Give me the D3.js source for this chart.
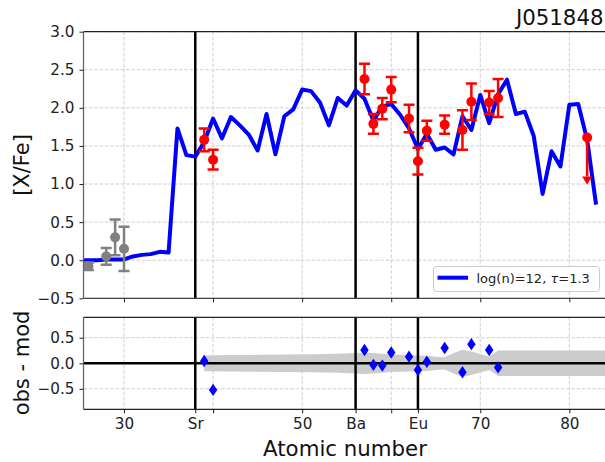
<!DOCTYPE html>
<html><head><meta charset="utf-8">
<script src="https://cdn.jsdelivr.net/npm/d3@7/dist/d3.min.js"></script>
<style>body{margin:0;background:#fff} text{font-family:"DejaVu Sans",sans-serif}</style>
</head><body><svg id="c" width="605" height="462"></svg>
<script>
// ---- data ----
const modelZ = [25,26,27,28,29,30,31,32,33,34,35,36,37,38,39,40,41,42,43,44,45,46,47,48,49,50,51,52,53,54,55,56,57,58,59,60,61,62,63,64,65,66,67,68,69,70,71,72,73,74,75,76,77,78,79,80,81,82,83];
const modelV = [0.00,0.00,0.00,0.01,0.01,0.01,0.05,0.07,0.08,0.11,0.10,1.73,1.38,1.36,1.55,1.86,1.60,1.88,1.77,1.65,1.44,1.92,1.39,1.89,1.98,2.24,2.22,2.07,1.77,2.13,2.03,2.23,2.12,1.83,2.02,2.05,1.91,1.73,1.46,1.66,1.45,1.48,1.39,1.89,1.71,2.17,1.80,2.18,2.37,1.92,1.95,1.63,0.87,1.43,1.23,2.04,2.05,1.58,0.73];

const obsZ   = [39,40,57,58,59,60,62,63,64,66,68,69,71,72];
const obsV   = [1.58,1.32,2.38,1.79,1.99,2.24,1.86,1.30,1.70,1.78,1.71,2.08,2.07,2.13];
const obsErr = [0.15,0.13,0.20,0.13,0.14,0.165,0.18,0.175,0.13,0.12,0.26,0.24,0.15,0.25];

const limZ = [82];
const limV = [1.61];

const greyZ   = [26,28,29,30];
const greyV   = [-0.08,0.05,0.30,0.15];
const greyErr = [0.05,0.11,0.235,0.29];

const resZ = [39,40,57,58,59,60,62,63,64,66,68,69,71,72];
const resV = [0.045,-0.52,0.26,-0.03,-0.045,0.21,0.13,-0.13,0.03,0.30,-0.175,0.375,0.26,-0.08];

const bandZ = [39,42,45,48,51,54,56,57,58,60,62,63,64,65,66,67,68,69,70,71,72,86];
const bandW = [0.155,0.16,0.165,0.17,0.175,0.185,0.2,0.21,0.2,0.17,0.16,0.155,0.15,0.13,0.12,0.2,0.265,0.23,0.18,0.13,0.25,0.25];

const markZ = [38,56,63];               // Sr, Ba, Eu
const gridX = [30,40,50,60,70,80];
const topYTicks = [-0.5,0,0.5,1,1.5,2,2.5,3];
const botYTicks = [-0.5,0,0.5];
const botXTicks = [30,38,40,50,56,60,63,70,80];
const botXLabels = ["30","Sr","","50","Ba","","Eu","70","80"];

const titleText = "J051848";
const legendText = "log(n)=12, ";

// ---- layout ----
const svg = d3.select("#c");
const L = 83.5, R = 606.3;
const x = d3.scaleLinear().domain([25.45, 84.15]).range([L, R]);
const yT = d3.scaleLinear().domain([-0.5, 3]).range([298.3, 31.7]);
const yB = d3.scaleLinear().domain([-0.9, 0.9]).range([409.3, 317.3]);
const fmt = d => d3.format(".1f")(d).replace("-", "\u2212");
const gridStyle = s => s.attr("stroke","#d0d0d0").attr("stroke-width",1).attr("stroke-dasharray","3.7,1.6");
const TICKFS = 15.2;

const defs = svg.append("defs");
defs.append("clipPath").attr("id","clipT").append("rect").attr("x",L).attr("y",31.7).attr("width",R-L).attr("height",298.3-31.7);
defs.append("clipPath").attr("id","clipB").append("rect").attr("x",L).attr("y",317.3).attr("width",R-L).attr("height",409.3-317.3);

// ===== TOP PANEL =====
const gT = svg.append("g");
const gTc = gT.append("g").attr("clip-path","url(#clipT)");
gTc.selectAll(".vg").data(gridX).enter().append("line")
  .attr("x1",d=>x(d)).attr("x2",d=>x(d)).attr("y1",yT(3)).attr("y2",yT(-0.5)).call(gridStyle);
gTc.selectAll(".hg").data(topYTicks).enter().append("line")
  .attr("x1",L).attr("x2",R).attr("y1",d=>yT(d)).attr("y2",d=>yT(d)).call(gridStyle);
gTc.selectAll(".vm").data(markZ).enter().append("line")
  .attr("x1",d=>x(d)).attr("x2",d=>x(d)).attr("y1",yT(3)).attr("y2",yT(-0.5))
  .attr("stroke","#000").attr("stroke-width",2.5);

const model = modelZ.map((z,i)=>[z,modelV[i]]);
gTc.append("path").datum(model)
  .attr("d", d3.line().x(d=>x(d[0])).y(d=>yT(d[1])))
  .attr("fill","none").attr("stroke","#0000ff").attr("stroke-width",4).attr("stroke-linejoin","round");

function errBars(g, Z, V, E, col){
  Z.forEach((z,i)=>{
    const cx = x(z);
    g.append("line").attr("x1",cx).attr("x2",cx).attr("y1",yT(V[i]-E[i])).attr("y2",yT(V[i]+E[i]))
      .attr("stroke",col).attr("stroke-width",2.5);
    [V[i]-E[i], V[i]+E[i]].forEach(v=>{
      g.append("line").attr("x1",cx-5.5).attr("x2",cx+5.5).attr("y1",yT(v)).attr("y2",yT(v))
        .attr("stroke",col).attr("stroke-width",2.5);
    });
    g.append("circle").attr("cx",cx).attr("cy",yT(V[i])).attr("r",5).attr("fill",col);
  });
}
errBars(gTc, greyZ, greyV, greyErr, "#808080");
errBars(gTc, obsZ, obsV, obsErr, "#ff0000");

limZ.forEach((z,i)=>{
  const cx = x(z);
  gTc.append("line").attr("x1",cx).attr("x2",cx).attr("y1",yT(limV[i])).attr("y2",yT(1.1))
    .attr("stroke","#ff0000").attr("stroke-width",2.5);
  gTc.append("path").attr("d",`M${cx-5},${yT(1.1)}L${cx+5},${yT(1.1)}L${cx},${yT(0.99)}Z`).attr("fill","#ff0000");
  gTc.append("circle").attr("cx",cx).attr("cy",yT(limV[i])).attr("r",5).attr("fill","#ff0000");
});

// spines top
gT.append("line").attr("x1",L).attr("x2",R).attr("y1",31.7).attr("y2",31.7).attr("stroke","#222").attr("stroke-width",1.2);
gT.append("line").attr("x1",L).attr("x2",R).attr("y1",298.3).attr("y2",298.3).attr("stroke","#444").attr("stroke-width",1.2);
gT.append("line").attr("x1",L).attr("x2",L).attr("y1",31.7).attr("y2",298.3).attr("stroke","#666").attr("stroke-width",1.3);

// axes top
const axTY = gT.append("g").attr("transform",`translate(${L},0)`)
  .call(d3.axisLeft(yT).tickValues(topYTicks).tickFormat(fmt).tickSize(4).tickPadding(5));
const axTX = gT.append("g").attr("transform",`translate(0,298.3)`)
  .call(d3.axisBottom(x).tickValues(gridX).tickFormat("").tickSize(4));
[axTY,axTX].forEach(a=>{a.select(".domain").remove(); a.selectAll("line").attr("stroke","#222");
  a.selectAll("text").attr("font-size",TICKFS).attr("fill","#222").style("font-family","DejaVu Sans");});

// legend
const lg = gT.append("g");
lg.append("rect").attr("x",433.5).attr("y",266.5).attr("width",166).attr("height",25).attr("rx",3)
  .attr("fill","#fff").attr("fill-opacity",0.8).attr("stroke","#cccccc");
lg.append("line").attr("x1",437.5).attr("x2",468).attr("y1",277.7).attr("y2",277.7).attr("stroke","#0000ff").attr("stroke-width",4);
const lt = lg.append("text").attr("x",476.5).attr("y",282.5).attr("font-size",13).attr("fill","#222");
lt.append("tspan").text(legendText);
lt.append("tspan").attr("font-style","italic").text("\u03c4");
lt.append("tspan").text("=1.3");

// title & ylabel
svg.append("text").attr("x",603.5).attr("y",25).attr("text-anchor","end").attr("font-size",21.3).attr("fill","#111").text(titleText);
svg.append("text").attr("transform",`translate(28.5,165) rotate(-90)`).attr("text-anchor","middle")
  .attr("font-size",21).attr("fill","#111").text("[X/Fe]");

// ===== BOTTOM PANEL =====
const gB = svg.append("g");
const gBc = gB.append("g").attr("clip-path","url(#clipB)");
gBc.selectAll(".vg").data(gridX).enter().append("line")
  .attr("x1",d=>x(d)).attr("x2",d=>x(d)).attr("y1",yB(0.9)).attr("y2",yB(-0.9)).call(gridStyle);
gBc.selectAll(".hg").data(botYTicks).enter().append("line")
  .attr("x1",L).attr("x2",R).attr("y1",d=>yB(d)).attr("y2",d=>yB(d)).call(gridStyle);

const band = bandZ.map((z,i)=>[z,bandW[i]]);
gBc.append("path").datum(band)
  .attr("d", d3.area().x(d=>x(d[0])).y0(d=>yB(-d[1])).y1(d=>yB(d[1])))
  .attr("fill","#cccccc");

gBc.append("line").attr("x1",L).attr("x2",R).attr("y1",yB(0)).attr("y2",yB(0)).attr("stroke","#000").attr("stroke-width",2.5);
gBc.selectAll(".vm").data(markZ).enter().append("line")
  .attr("x1",d=>x(d)).attr("x2",d=>x(d)).attr("y1",yB(0.9)).attr("y2",yB(-0.9))
  .attr("stroke","#000").attr("stroke-width",2.5);

gBc.selectAll(".dm").data(resZ).enter().append("path")
  .attr("d",(z,i)=>`M${x(z)},${yB(resV[i])-6.2}L${x(z)+4.2},${yB(resV[i])}L${x(z)},${yB(resV[i])+6.2}L${x(z)-4.2},${yB(resV[i])}Z`)
  .attr("fill","#0000ff");

gB.append("line").attr("x1",L).attr("x2",R).attr("y1",317.3).attr("y2",317.3).attr("stroke","#222").attr("stroke-width",1.2);
gB.append("line").attr("x1",L).attr("x2",R).attr("y1",409.3).attr("y2",409.3).attr("stroke","#222").attr("stroke-width",1.2);
gB.append("line").attr("x1",L).attr("x2",L).attr("y1",317.3).attr("y2",409.3).attr("stroke","#666").attr("stroke-width",1.3);

const axBY = gB.append("g").attr("transform",`translate(${L},0)`)
  .call(d3.axisLeft(yB).tickValues(botYTicks).tickFormat(fmt).tickSize(4).tickPadding(5));
const axBX = gB.append("g").attr("transform",`translate(0,409.3)`)
  .call(d3.axisBottom(x).tickValues(botXTicks).tickFormat((d,i)=>botXLabels[i]).tickSize(4).tickPadding(5));
[axBY,axBX].forEach(a=>{a.select(".domain").remove(); a.selectAll("line").attr("stroke","#222");
  a.selectAll("text").attr("font-size",TICKFS).attr("fill","#222").style("font-family","DejaVu Sans");});

svg.append("text").attr("x",345).attr("y",455.5).attr("text-anchor","middle").attr("font-size",21.3).attr("fill","#111").text("Atomic number");
svg.append("text").attr("transform",`translate(28.5,363) rotate(-90)`).attr("text-anchor","middle")
  .attr("font-size",21).attr("fill","#111").text("obs - mod");
</script></body></html>
